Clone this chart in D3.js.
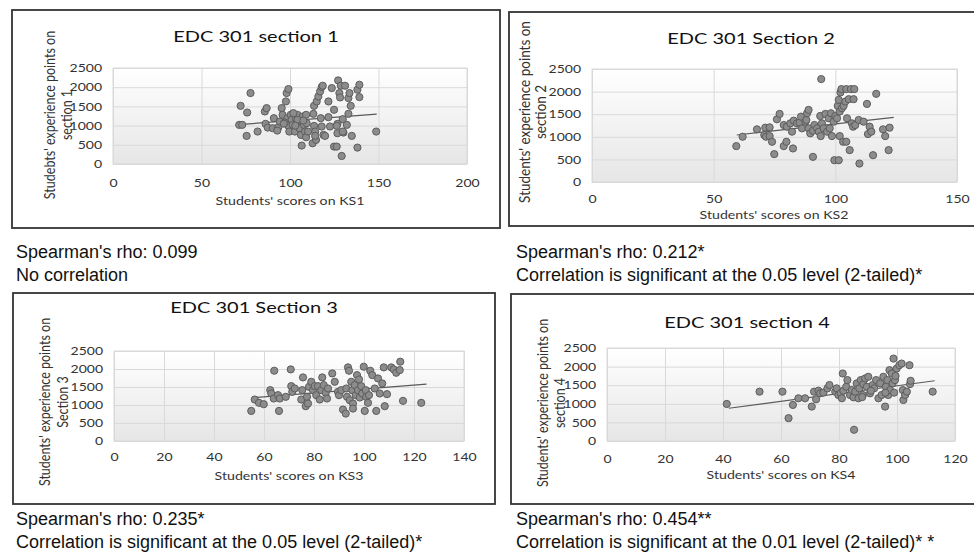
<!DOCTYPE html>
<html><head><meta charset="utf-8">
<script src="https://cdn.jsdelivr.net/npm/d3@7"></script>
<style>html,body{margin:0;padding:0;background:#fff;}svg{display:block;}</style>
</head><body>
<svg id="c" width="974" height="552"></svg>
<script>
// ---------- DATA ----------
const titles = ["EDC 301 section 1", "EDC 301 Section 2", "EDC 301 Section 3", "EDC 301 section 4"];
const xTitles = ["Students' scores on KS1", "Students' scores on KS2", "Students' scores on KS3", "Students' scores on KS4"];
const yTitles = [
  ["Studebts' experience points on", "section 1"],
  ["Students' experience points on", "section 2"],
  ["Students' experience points on", "Section 3"],
  ["Students' experience points on", "section 4"]
];
const yTicks = [0, 500, 1000, 1500, 2000, 2500];
const xTicks1 = [0, 50, 100, 150, 200];
const xTicks2 = [0, 50, 100, 150];
const xTicks3 = [0, 20, 40, 60, 80, 100, 120, 140];
const xTicks4 = [0, 20, 40, 60, 80, 100, 120];
const notes = [
  ["Spearman's rho: 0.099", "No correlation"],
  ["Spearman's rho: 0.212*", "Correlation is significant at the 0.05 level (2-tailed)*"],
  ["Spearman's rho: 0.235*", "Correlation is significant at the 0.05 level (2-tailed)*"],
  ["Spearman's rho: 0.454**", "Correlation is significant at the 0.01 level (2-tailed)* *"]
];

const s1X = [71.3,73,72.1,75.8,77.7,75.5,81.7,85.8,86.8,86.2,87.4,90.2,90.9,93.4,92.8,94.3,95.3,95.8,97.7,98.1,99.1,98.5,99.1,100.4,100.9,99.6,101.5,102.8,103.4,104.2,104.7,105.3,105.7,106.2,106.6,107.2,107.9,108.5,109.1,109.4,109.1,113.2,113.6,114.2,112.8,114.7,114.2,113.6,115.1,116,117,117.9,118.5,117.4,117.9,118.9,119.8,121.7,121.7,122.6,123.6,124.9,124.9,126.4,126.8,126.8,126.4,127.2,127.9,128.3,128.7,129.8,129.2,130.2,129.8,131.1,132.1,133,133.6,133,134.3,134.9,138.1,138.1,139.2,139.2,148.7,101.9,104.3,107.5,110.2,97,103,96.5];
const s1Y = [1019,1019,1515,1341,1847,732,845,1367,1455,1045,949,932,1193,958,871,1106,1455,1280,1629,1847,1951,1193,993,1280,1150,845,1019,845,1193,1280,1045,932,1132,758,479,1237,1019,845,1280,1063,697,1306,993,845,540,627,732,1515,1629,1759,1890,2003,2038,1193,976,758,732,1629,1219,976,1977,1411,453,453,1045,801,993,2177,1847,1733,2038,1167,209,819,845,2038,1019,1716,1847,1306,1515,732,427,1934,2064,1742,845,1324,1150,1132,845,1080,1000,1050];

const s2X = [59.3,61.9,67.8,71.2,70.8,71.5,73,74,73,74.9,76,77.1,78.8,78.8,79.9,80.1,81.5,82.2,82.6,82.9,84.2,85.3,85.9,86.3,87.7,88.1,88.4,89,89,89.7,90.8,91.4,90.8,92.5,93.2,93.8,94.2,94,94.5,95.2,95.9,96.6,97.3,97.7,98.2,98.6,99.3,99.6,100,100.7,101,101.4,101.4,101.8,101.8,102.1,102.5,102.7,103.2,103.4,104.1,104.5,104.5,104.8,105.5,105.9,106.4,106.8,107.3,107.5,107.8,108.2,109.6,109.9,111.6,113,113.4,114.1,114.8,115.5,116.8,119.6,120.5,121.9,122.3];
const s2Y = [794,1001,1165,1202,1039,1001,1016,890,1209,616,1387,1506,1261,794,890,1224,1298,1113,742,1357,1298,1313,1446,1187,1335,1372,1521,1595,1187,1076,1135,1261,556,1187,1113,1461,2277,1016,1298,1187,1506,1113,1409,1187,1521,1016,1335,482,1461,1409,1684,1817,482,1016,1558,1981,2055,1632,890,1684,1780,2055,890,1409,1832,705,2055,1298,1224,1832,2055,1261,1372,408,1335,1728,1061,1224,1113,593,1951,1165,1016,705,1202];

const s3X = [54.9,56.3,58,59.9,62.5,62.9,63.9,64.1,65.6,66,66.3,68.7,70.7,70.9,71.3,72.3,74.9,75.3,75.6,76.7,77.2,77.6,78,78.9,79.6,80.3,80.9,81.6,82.3,82.9,83.3,83.9,84.7,85.2,85.6,87.3,88.3,89.6,90,90.9,91.6,92.7,92.9,93.2,93.6,94,94.3,94.9,95.3,95.6,95.6,96.3,96.7,97.2,97.6,98,98.3,98.9,99.3,99.9,100.3,100.7,100.9,101.6,102,102.5,103.3,104.3,104.9,105.6,106.3,107.3,107.9,108.3,109.2,110.9,111.9,112.9,114.3,114.5,115.6,122.9];
const s3Y = [836,1152,1060,1022,1413,1320,1180,1952,1273,836,1180,1227,1989,1524,1366,1459,1152,1413,1766,967,1227,1041,1506,1645,1413,1524,1273,1524,1152,1413,1766,1552,1338,1180,1459,1877,1645,1366,1273,1413,874,762,1459,1227,2045,1952,1134,1645,1413,1041,901,1552,1273,1831,1413,1710,1208,1524,1320,2063,836,1413,1227,1060,1273,1952,1831,1459,836,1738,1320,1599,2045,967,1301,2045,1989,1896,1970,2203,1115,1060];

const s4X = [41.3,52.6,60.5,62.6,64.1,66,68.3,70.6,71.4,72.1,72.9,73.5,74.6,76,76.7,78.7,79.2,79.8,80.6,81,81.3,81.5,82.5,82.9,83.8,84.4,85,85.2,85.6,86.1,86.7,87,87.5,88.2,88.4,89,89.6,90.1,90.7,91.6,92.1,92.8,93.6,94.2,94.7,95.3,95.9,96.2,96.7,97,97.4,97.6,98.2,98.5,98.8,99,99.3,99.9,100.8,101.6,102,102.2,102.8,103.4,104.3,104.5,104.7,112.3,88,91,96,99.5];
const s4Y = [996,1326,1326,614,970,1148,1148,925,1326,1121,1352,1281,1299,1415,1504,1326,1415,1237,1281,1148,1815,1352,1459,1637,1237,1370,1174,302,1326,1548,1148,1415,1637,1237,1530,1681,1459,1726,1281,1504,1415,1637,1148,1548,1237,1726,925,1459,1637,1237,1904,1370,1815,1548,2215,1299,1637,1948,2037,2082,1370,1103,1237,1326,2037,1530,1619,1326,1180,1350,1300,1750];

const trend1X = [71, 149], trend1Y = [1025, 1300];
const trend2X = [59.5, 124], trend2Y = [1040, 1430];
const trend3X = [56, 125], trend3Y = [1205, 1580];
const trend4X = [42, 113], trend4Y = [880, 1620];

// ---------- LAYOUT (code, not data) ----------
const CF = "Lato, 'Open Sans', sans-serif";
const BF = "'Liberation Sans', Arial, sans-serif";
const SX = 1.22;
const panels = [
  {box:[12,10,500,228], plot:[113,68,467,164], xMax:200, xt:xTicks1, xs:s1X, ys:s1Y, tx:trend1X, ty:trend1Y,
   title:[256,42], xpad:15, xTitle:[290,205], yT:[55,72,115], ySize:12.5, note:[16,258,281]},
  {box:[509,12,1000,226], plot:[592,69,957,182], xMax:150, xt:xTicks2, xs:s2X, ys:s2Y, tx:trend2X, ty:trend2Y,
   title:[751,44], xpad:13, xTitle:[774,219], yT:[530,546,112], ySize:13.5, note:[516,258,281]},
  {box:[13,293,495,504], plot:[114,351,464,441], xMax:140, xt:xTicks3, xs:s3X, ys:s3Y, tx:trend3X, ty:trend3Y,
   title:[254,313], xpad:12, xTitle:[289,480], yT:[50,68,402], ySize:12.5, note:[16,525,548]},
  {box:[511,294,1000,504], plot:[607,348,955,441], xMax:120, xt:xTicks4, xs:s4X, ys:s4Y, tx:trend4X, ty:trend4Y,
   title:[747,328], xpad:14, xTitle:[781,479], yT:[548,565,403], ySize:12.5, note:[516,525,548]}
];

const svg = d3.select("#c");
const defs = svg.append("defs");
const grad = defs.append("linearGradient").attr("id","pg").attr("x1",0).attr("y1",0).attr("x2",0).attr("y2",1);
grad.append("stop").attr("offset","0%").attr("stop-color","#ffffff");
grad.append("stop").attr("offset","100%").attr("stop-color","#e6e6e6");

function stext(g, x, y, str, o) {
  let tr = `translate(${x},${y}) scale(${o.sx || 1},1)`;
  if (o.rotate) tr += ` rotate(${o.rotate})`;
  return g.append("text").attr("transform", tr)
    .attr("text-anchor", o.anchor || "middle")
    .style("font-family", o.family || CF).style("font-size", o.size + "px")
    .attr("fill", o.fill || "#404040").text(str);
}

panels.forEach((p, i) => {
  const g = svg.append("g");
  const [bx0, by0, bx1, by1] = p.box;
  g.append("rect").attr("x", bx0).attr("y", by0).attr("width", bx1 - bx0).attr("height", by1 - by0)
    .attr("fill", "#fff").attr("stroke", "#333").attr("stroke-width", 1.8);

  const [px0, py0, px1, py1] = p.plot;
  const x = d3.scaleLinear().domain([0, p.xMax]).range([px0, px1]);
  const y = d3.scaleLinear().domain([0, 2500]).range([py1, py0]);

  g.append("rect").attr("x", px0).attr("y", py0).attr("width", px1 - px0).attr("height", py1 - py0)
    .attr("fill", "url(#pg)").attr("stroke", "#d9d9d9").attr("stroke-width", 1);

  // gridlines
  const gy = g.append("g").attr("transform", `translate(${px0},0)`)
    .call(d3.axisLeft(y).tickValues(yTicks).tickSize(-(px1 - px0)).tickFormat(""));
  const gx = g.append("g").attr("transform", `translate(0,${py1})`)
    .call(d3.axisBottom(x).tickValues(p.xt).tickSize(-(py1 - py0)).tickFormat(""));
  [gy, gx].forEach(a => { a.select(".domain").remove(); a.selectAll("line").attr("stroke", "#d9d9d9"); });

  // tick labels
  const ly = g.append("g").attr("transform", `translate(${px0},0)`)
    .call(d3.axisLeft(y).tickValues(yTicks).tickSize(0).tickPadding(9).tickFormat(d3.format("d")));
  const lx = g.append("g").attr("transform", `translate(0,${py1})`)
    .call(d3.axisBottom(x).tickValues(p.xt).tickSize(0).tickPadding(p.xpad).tickFormat(d3.format("d")));
  [ly, lx].forEach(a => {
    a.select(".domain").remove();
    a.selectAll("text").style("font-family", CF).style("font-size", "11.5px").attr("fill", "#333")
      .attr("transform", `scale(${SX},1)`);
  });

  // trendline
  const line = d3.line().x(d => x(d[0])).y(d => y(d[1]));
  g.append("path").datum(d3.zip(p.tx, p.ty)).attr("d", line)
    .attr("fill", "none").attr("stroke", "#5a5a5a").attr("stroke-width", 1.2);

  // points
  g.append("g").selectAll("circle").data(d3.zip(p.xs, p.ys)).join("circle")
    .attr("cx", d => x(d[0])).attr("cy", d => y(d[1])).attr("r", 3.6)
    .attr("fill", "#8c8c8c").attr("stroke", "#5c5c5c").attr("stroke-width", 1);

  // titles
  stext(g, p.title[0], p.title[1], titles[i], {size: 16, sx: 1.25, fill: "#111"});
  stext(g, p.xTitle[0], p.xTitle[1], xTitles[i], {size: 12, sx: 1.18, fill: "#333"});
  stext(g, p.yT[0], p.yT[2], yTitles[i][0], {size: p.ySize, sx: 1.2, rotate: -90, fill: "#333"});
  stext(g, p.yT[1], p.yT[2], yTitles[i][1], {size: p.ySize, sx: 1.2, rotate: -90, fill: "#333"});

  // notes
  stext(svg, p.note[0], p.note[1], notes[i][0], {size: 18, anchor: "start", family: BF, fill: "#111"});
  stext(svg, p.note[0], p.note[2], notes[i][1], {size: 18, anchor: "start", family: BF, fill: "#111"});
});
</script>
</body></html>
